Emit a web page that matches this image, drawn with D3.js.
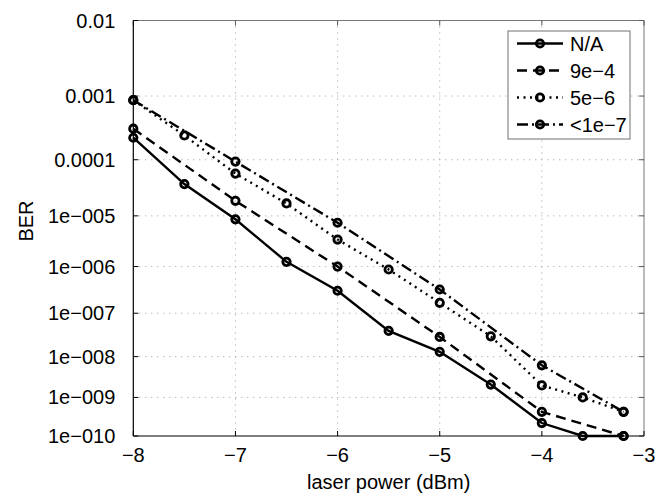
<!DOCTYPE html>
<html>
<head>
<meta charset="utf-8">
<script src="https://cdn.jsdelivr.net/npm/d3@7"></script>
<style>
  body { margin: 0; background: #fff; }
  text { font-family: "Liberation Sans", Arial, sans-serif; fill: #000; }
  .grid line { stroke: #9a9a9a; stroke-width: 1; stroke-dasharray: 1,5; }
  .series { fill: none; stroke: #000; stroke-width: 2.4; }
  .marker { fill: none; stroke: #000; stroke-width: 2.8; }
</style>
</head>
<body>
<svg width="670" height="503"></svg>
<script>
// data
var power_full = [-8, -7.5, -7, -6.5, -6, -5.5, -5, -4.5, -4, -3.6, -3.2];
var power_int = [-8, -7, -6, -5, -4, -3.2];
var ber_na = [2.3e-4, 3.8e-5, 8.6e-6, 1.25e-6, 3.1e-7, 4e-8, 1.3e-8, 2.1e-9, 2.2e-10, 1e-10, 1e-10];
var ber_9e4 = [3.2e-4, 1.9e-5, 1e-6, 2.9e-8, 4.3e-10, 1e-10];
var ber_5e6 = [8.7e-4, 2.5e-4, 5.8e-5, 1.7e-5, 3.5e-6, 8.7e-7, 1.7e-7, 3e-8, 2e-9, 1e-9, 4.3e-10];
var ber_1e7 = [8.7e-4, 9.3e-5, 7.4e-6, 3.3e-7, 6.2e-9, 4.3e-10];
var series_names = ["N/A", "9e\u22124", "5e\u22126", "<1e\u22127"];
var x_ticks = [-8, -7, -6, -5, -4, -3];
var y_ticks = [1e-2, 1e-3, 1e-4, 1e-5, 1e-6, 1e-7, 1e-8, 1e-9, 1e-10];
var y_tick_labels = ["0.01", "0.001", "0.0001", "1e\u2212005", "1e\u2212006", "1e\u2212007", "1e\u2212008", "1e\u2212009", "1e\u2212010"];

var svg = d3.select("svg"),
    plot = {left: 133.3, right: 644, top: 20.5, bottom: 436};

var x = d3.scaleLinear().domain([-8, -3]).range([plot.left, plot.right]);
// BER axis: square root of -log10(BER)
var yp = d3.scalePow().exponent(0.5).domain([2, 10]).range([plot.top, plot.bottom]);
var y = function(v) { return yp(-Math.log10(v)); };

var styles = [
    {dash: null},
    {dash: "10,6"},
    {dash: "2,4.5"},
    {dash: "11,4,2,4"}
];

var series = [
    {xs: power_full, ys: ber_na},
    {xs: power_int, ys: ber_9e4},
    {xs: power_full, ys: ber_5e6},
    {xs: power_int, ys: ber_1e7}
];

// Grid
var grid = svg.append("g").attr("class", "grid");
grid.selectAll(".gx").data(x_ticks.slice(1, -1)).enter().append("line")
    .attr("x1", function(d) { return x(d); }).attr("x2", function(d) { return x(d); })
    .attr("y1", plot.top).attr("y2", plot.bottom);
grid.selectAll(".gy").data(y_ticks.slice(1, -1)).enter().append("line")
    .attr("x1", plot.left).attr("x2", plot.right)
    .attr("y1", function(d) { return y(d); }).attr("y2", function(d) { return y(d); });

// Frame: top/right gray, left/bottom black
svg.append("line").attr("x1", plot.left).attr("x2", plot.right).attr("y1", plot.top).attr("y2", plot.top)
    .attr("stroke", "#777").attr("stroke-width", 1);
svg.append("line").attr("x1", plot.right).attr("x2", plot.right).attr("y1", plot.top).attr("y2", plot.bottom)
    .attr("stroke", "#777").attr("stroke-width", 1);

// Inward ticks on all four sides
var ticks = svg.append("g").attr("stroke", "#000").attr("stroke-width", 1);
x_ticks.forEach(function(d) {
    ticks.append("line").attr("x1", x(d)).attr("x2", x(d)).attr("y1", plot.bottom).attr("y2", plot.bottom - 5);
    ticks.append("line").attr("x1", x(d)).attr("x2", x(d)).attr("y1", plot.top).attr("y2", plot.top + 5).attr("stroke", "#555");
});
y_ticks.forEach(function(d) {
    ticks.append("line").attr("x1", plot.left).attr("x2", plot.left + 5).attr("y1", y(d)).attr("y2", y(d));
    ticks.append("line").attr("x1", plot.right).attr("x2", plot.right - 5).attr("y1", y(d)).attr("y2", y(d)).attr("stroke", "#555");
});

svg.append("line").attr("x1", plot.left).attr("x2", plot.left).attr("y1", plot.top).attr("y2", plot.bottom)
    .attr("stroke", "#000").attr("stroke-width", 1.2);
svg.append("line").attr("x1", plot.left).attr("x2", plot.right).attr("y1", plot.bottom).attr("y2", plot.bottom)
    .attr("stroke", "#000").attr("stroke-width", 1.2);

// Tick labels
svg.selectAll(".xlab").data(x_ticks).enter().append("text")
    .attr("x", function(d) { return x(d); })
    .attr("y", plot.bottom + 26)
    .attr("text-anchor", "middle")
    .style("font-size", "20px")
    .text(function(d) { return String(d).replace("-", "\u2212"); });

svg.selectAll(".ylab").data(y_ticks).enter().append("text")
    .attr("x", plot.left - 18)
    .attr("y", function(d) { return y(d); })
    .attr("dy", "0.35em")
    .attr("text-anchor", "end")
    .style("font-size", "20px")
    .text(function(d, i) { return y_tick_labels[i]; });

svg.append("text").text("laser power (dBm)")
    .attr("x", (plot.left + plot.right) / 2)
    .attr("y", 489)
    .attr("text-anchor", "middle")
    .style("font-size", "20px");

svg.append("text").text("BER")
    .attr("transform", "translate(33,221) rotate(-90)")
    .attr("text-anchor", "middle")
    .style("font-size", "20px");

// Series
var line = d3.line();
series.forEach(function(s, k) {
    var pts = s.xs.map(function(v, i) { return [x(v), y(s.ys[i])]; });
    svg.append("path").attr("class", "series")
        .attr("d", line(pts))
        .attr("stroke-dasharray", styles[k].dash);
    svg.selectAll(null).data(pts).enter().append("circle")
        .attr("class", "marker")
        .attr("cx", function(d) { return d[0]; })
        .attr("cy", function(d) { return d[1]; })
        .attr("r", 3.7);
});

// Legend
var legend = svg.append("g").attr("transform", "translate(508,31)");
legend.append("rect").attr("width", 122).attr("height", 108)
    .attr("fill", "#fff").attr("stroke", "#888").attr("stroke-width", 1.2);
series_names.forEach(function(name, k) {
    var ly = 12.5 + k * 27;
    legend.append("line").attr("class", "series")
        .attr("x1", 9).attr("x2", 55).attr("y1", ly).attr("y2", ly)
        .attr("stroke-dasharray", styles[k].dash);
    legend.append("circle").attr("class", "marker").attr("cx", 32).attr("cy", ly).attr("r", 3.7);
    legend.append("text").text(name)
        .attr("x", 62).attr("y", ly).attr("dy", "0.36em")
        .style("font-size", "20px");
});
</script>
</body>
</html>
